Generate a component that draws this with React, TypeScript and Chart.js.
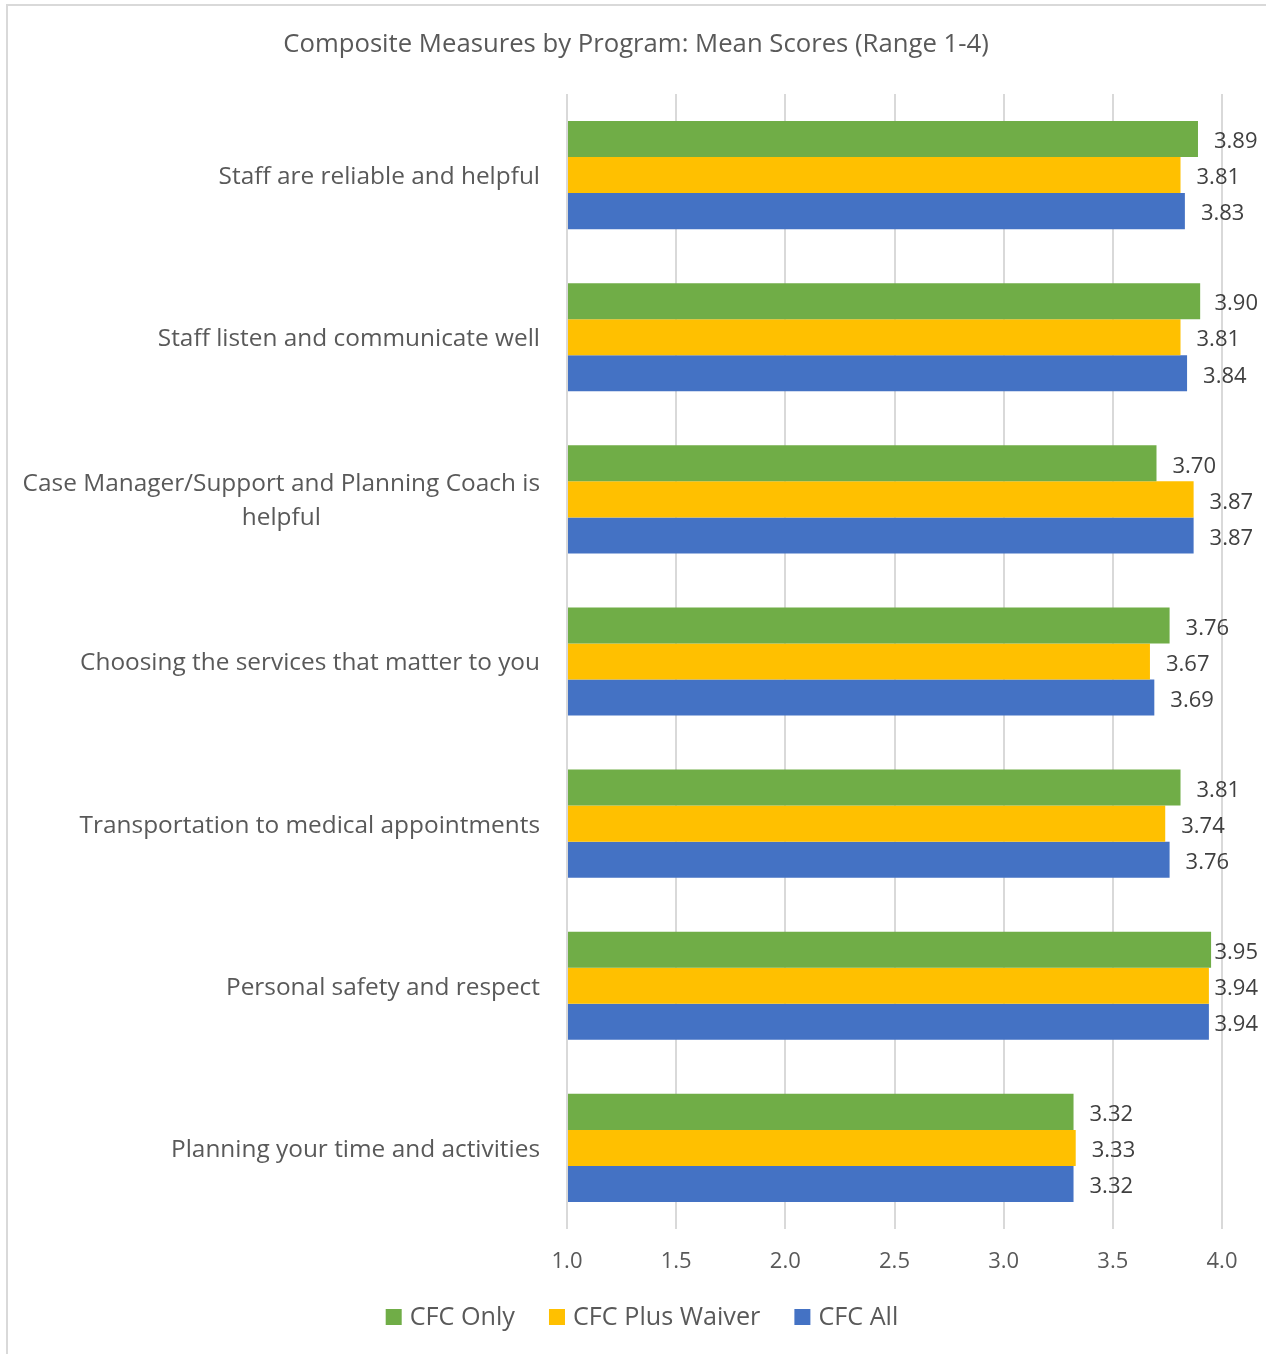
import React, { useEffect, useRef } from "react";
import { Chart, registerables } from "chart.js";

Chart.register(...registerables);

const titleText = "Composite Measures by Program: Mean Scores (Range 1-4)";

const categories: string[][] = [
  ["Staff are reliable and helpful"],
  ["Staff listen and communicate well"],
  ["Case Manager/Support and Planning Coach is", "helpful"],
  ["Choosing the services that matter to you"],
  ["Transportation to medical appointments"],
  ["Personal safety and respect"],
  ["Planning your time and activities"],
];

const seriesNames = ["CFC Only", "CFC Plus Waiver", "CFC All"];
const cfcOnly = [3.89, 3.9, 3.7, 3.76, 3.81, 3.95, 3.32];
const cfcPlusWaiver = [3.81, 3.81, 3.87, 3.67, 3.74, 3.94, 3.33];
const cfcAll = [3.83, 3.84, 3.87, 3.69, 3.76, 3.94, 3.32];

const xMin = 1.0;
const xMax = 4.0;
const xStep = 0.5;

const colors = ["#70AD47", "#FFC000", "#4472C4"];
const FONT = "'Open Sans', sans-serif";
const TEXT = "#595959";

const bgBorderPlugin = {
  id: "bgBorder",
  beforeDraw(chart: any) {
    const { ctx, width, height } = chart;
    ctx.save();
    ctx.fillStyle = "#ffffff";
    ctx.fillRect(0, 0, width, height);
    ctx.strokeStyle = "#d9d9d9";
    ctx.lineWidth = 2;
    ctx.beginPath();
    ctx.moveTo(7, height);
    ctx.lineTo(7, 5);
    ctx.lineTo(width, 5);
    ctx.stroke();
    ctx.restore();
  },
};

const titlePlugin = {
  id: "customTitle",
  afterDraw(chart: any) {
    const { ctx, width } = chart;
    ctx.save();
    ctx.font = `25.7px ${FONT}`;
    ctx.fillStyle = TEXT;
    ctx.textAlign = "center";
    ctx.textBaseline = "middle";
    ctx.fillText(titleText, width / 2 + 3, 45);
    ctx.restore();
  },
};

const legendPlugin = {
  id: "customLegend",
  afterDraw(chart: any) {
    const { ctx, width } = chart;
    ctx.save();
    ctx.font = `25.2px ${FONT}`;
    ctx.textBaseline = "middle";
    ctx.textAlign = "left";
    const box = 16;
    const gap = 8;
    const itemGap = 34;
    const items = chart.data.datasets.map((ds: any) => ({
      label: ds.label,
      color: ds.backgroundColor,
      w: ctx.measureText(ds.label).width,
    }));
    const total =
      items.reduce((s: number, it: any) => s + box + gap + it.w, 0) + itemGap * (items.length - 1);
    let x = width / 2 + 9 - total / 2;
    const yc = 1317;
    items.forEach((it: any) => {
      ctx.fillStyle = it.color;
      ctx.fillRect(x, yc - box / 2, box, box);
      ctx.fillStyle = TEXT;
      ctx.fillText(it.label, x + box + gap, yc + 1);
      x += box + gap + it.w + itemGap;
    });
    ctx.restore();
  },
};

const categoryLabelPlugin = {
  id: "categoryLabels",
  afterDraw(chart: any) {
    const { ctx, chartArea } = chart;
    const yScale = chart.scales.y;
    ctx.save();
    ctx.font = `24.4px ${FONT}`;
    ctx.fillStyle = TEXT;
    ctx.textBaseline = "middle";
    ctx.textAlign = "center";
    const right = chartArea.left - 27;
    const lineGap = 34;
    categories.forEach((lines, i) => {
      const yc = yScale.getPixelForValue(i) + 2;
      const maxW = Math.max(...lines.map((l) => ctx.measureText(l).width));
      const cx = right - maxW / 2;
      lines.forEach((line, j) => {
        const y = yc + (j - (lines.length - 1) / 2) * lineGap;
        ctx.fillText(line, cx, y);
      });
    });
    ctx.restore();
  },
};

const dataLabelPlugin = {
  id: "dataLabels",
  afterDatasetsDraw(chart: any) {
    const { ctx, width } = chart;
    ctx.save();
    ctx.font = `22px ${FONT}`;
    ctx.fillStyle = "#404040";
    ctx.textBaseline = "middle";
    ctx.textAlign = "left";
    const maxRight = width - 8;
    chart.data.datasets.forEach((ds: any, di: number) => {
      const meta = chart.getDatasetMeta(di);
      meta.data.forEach((el: any, i: number) => {
        const text = Number(ds.data[i]).toFixed(2);
        const w = ctx.measureText(text).width;
        const x = Math.min(el.x + 16, maxRight - w);
        ctx.fillText(text, x, el.y + 3);
      });
    });
    ctx.restore();
  },
};

export default function App() {
  const canvasRef = useRef<HTMLCanvasElement | null>(null);

  useEffect(() => {
    document.body.style.margin = "0";
    const canvas = canvasRef.current;
    if (!canvas) return;
    const chart = new Chart(canvas, {
      type: "bar",
      data: {
        labels: categories.map((c) => c.join(" ")),
        datasets: [cfcOnly, cfcPlusWaiver, cfcAll].map((d, i) => ({
          label: seriesNames[i],
          data: d,
          backgroundColor: colors[i],
          borderWidth: 0,
          base: xMin,
          categoryPercentage: 0.667,
          barPercentage: 1.0,
        })),
      },
      options: {
        indexAxis: "y",
        responsive: false,
        animation: false,
        devicePixelRatio: 1,
        layout: { padding: { left: 0, right: 44, top: 94, bottom: 59 } },
        plugins: {
          title: { display: false },
          legend: { display: false },
          tooltip: { enabled: false },
        },
        scales: {
          x: {
            type: "linear",
            min: xMin,
            max: xMax,
            ticks: {
              stepSize: xStep,
              color: TEXT,
              font: { family: FONT, size: 22 },
              padding: 20,
              callback: (v: any) => Number(v).toFixed(1),
            },
            grid: { color: "#d9d9d9", lineWidth: 2, drawTicks: false },
            border: { display: false },
            afterFit: (scale: any) => {
              scale.height = 66;
            },
          },
          y: {
            ticks: { display: false },
            grid: { display: false },
            border: { display: false },
            afterFit: (scale: any) => {
              scale.width = 567;
            },
          },
        },
      },
      plugins: [bgBorderPlugin, categoryLabelPlugin, dataLabelPlugin, titlePlugin, legendPlugin],
    });
    return () => chart.destroy();
  }, []);

  return <canvas ref={canvasRef} width={1266} height={1354} style={{ display: "block" }} />;
}
